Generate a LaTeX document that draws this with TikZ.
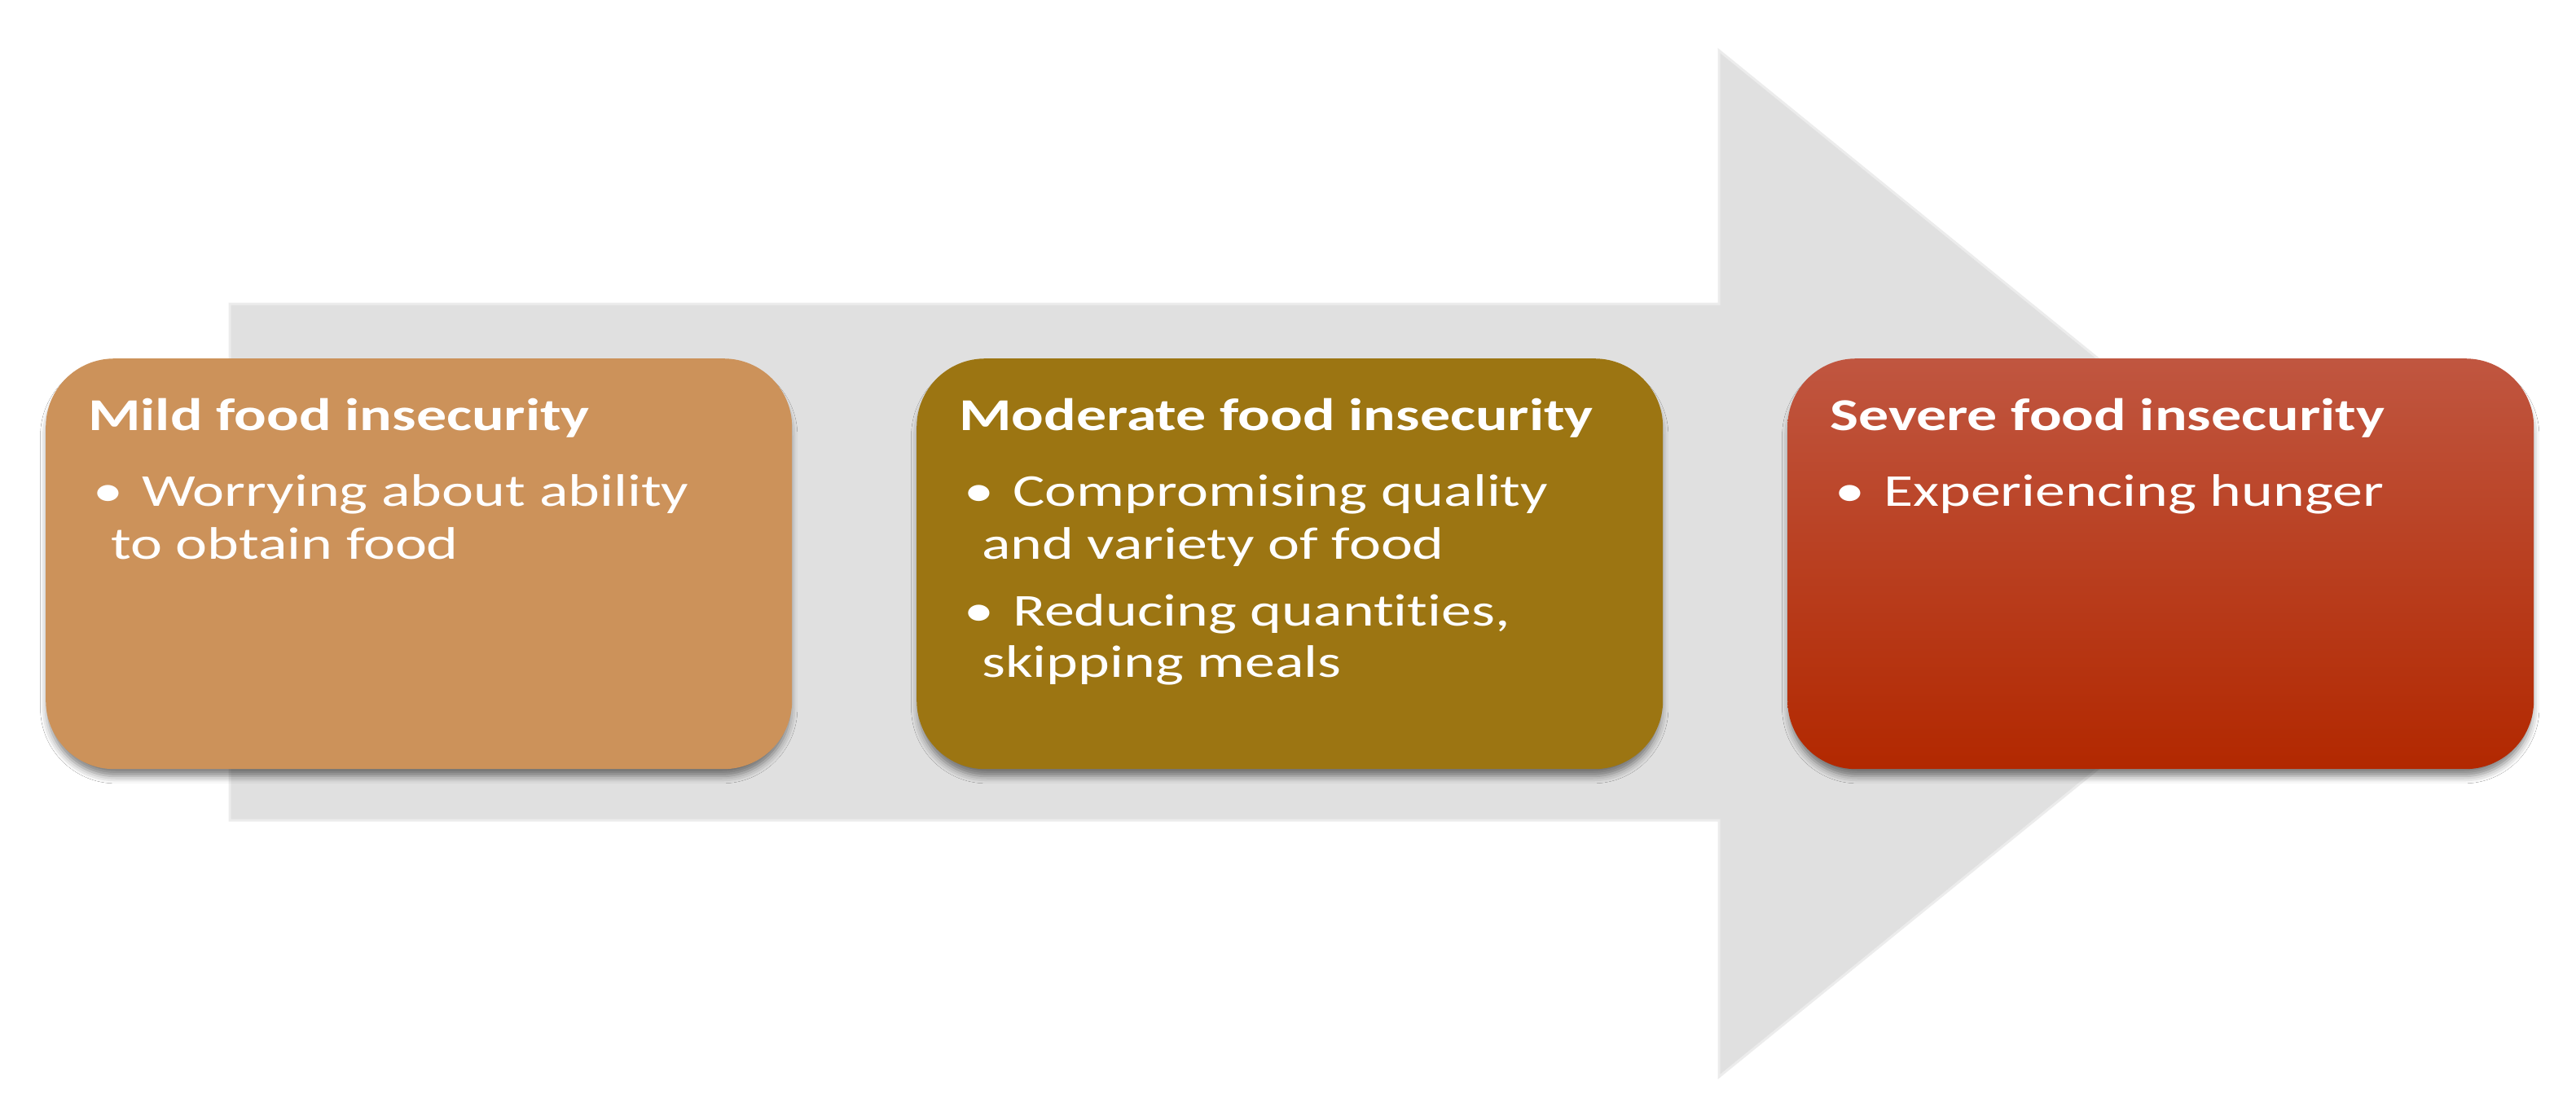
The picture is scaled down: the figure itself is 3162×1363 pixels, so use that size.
\documentclass[tikz,border=0pt]{standalone}
\usepackage{fontspec}
\newfontfamily\boxfont[FakeStretch=1.32, Ligatures={NoCommon}, RawFeature={-liga}]{Carlito}
\usetikzlibrary{shadows.blur}
\definecolor{arrowgray}{RGB}{224,224,224}
\definecolor{arrowedge}{RGB}{236,236,236}
\definecolor{mildc}{RGB}{204,146,90}
\definecolor{modc}{RGB}{156,117,18}
\definecolor{sevtop}{RGB}{192,86,64}
\definecolor{sevmid}{RGB}{184,46,4}
\definecolor{sevbot}{RGB}{178,40,0}
\begin{document}
\begin{tikzpicture}[x=1pt,y=-1pt,
  stage/.style={rectangle, rounded corners=84pt, minimum width=916pt, minimum height=504pt,
    anchor=north west, inner sep=0pt,
    blur shadow={shadow xshift=0pt, shadow yshift=-10pt, shadow blur radius=9pt, shadow opacity=50, shadow scale=0.995}},
  ttl/.style={anchor=base west, inner sep=0pt, text=white, font=\boxfont\bfseries\fontsize{56}{64}\selectfont},
  txt/.style={anchor=base west, inner sep=0pt, text=white, font=\boxfont\fontsize{56}{64}\selectfont}]
\useasboundingbox (0,0) rectangle (3162,1363);
\fill[white] (0,0) rectangle (3162,1363);
% big arrow
\filldraw[fill=arrowgray, draw=arrowedge, line width=3pt]
  (282,373) -- (2110,373) -- (2110,62) -- (2885,692) -- (2110,1322) -- (2110,1007) -- (282,1007) -- cycle;
% boxes
\node[stage, fill=mildc] (mild) at (56,440) {};
\node[stage, fill=modc] (moderate) at (1125,440) {};
\node[stage, top color=sevtop, middle color=sevmid, bottom color=sevbot] (severe) at (2194,440) {};
% mild text
\node[ttl] (mildT) at (108,528) {Mild food insecurity};
\node[txt] (mildB1) at (114,621) {•};
\node[txt] (mildL1) at (174,621) {Worrying about ability};
\node[txt] (mildL2) at (136,686) {to obtain food};
% moderate text
\node[ttl] (modT) at (1177,528) {Moderate food insecurity};
\node[txt] (modB1) at (1183,621) {•};
\node[txt] (modL1) at (1243,621) {Compromising quality};
\node[txt] (modL2) at (1205,686) {and variety of food};
\node[txt] (modB2) at (1183,768) {•};
\node[txt] (modL3) at (1243,768) {Reducing quantities,};
\node[txt] (modL4) at (1205,831) {skipping meals};
% severe text
\node[ttl] (sevT) at (2246,528) {Severe food insecurity};
\node[txt] (sevB1) at (2252,621) {•};
\node[txt] (sevL1) at (2312,621) {Experiencing hunger};
\end{tikzpicture}
\end{document}
